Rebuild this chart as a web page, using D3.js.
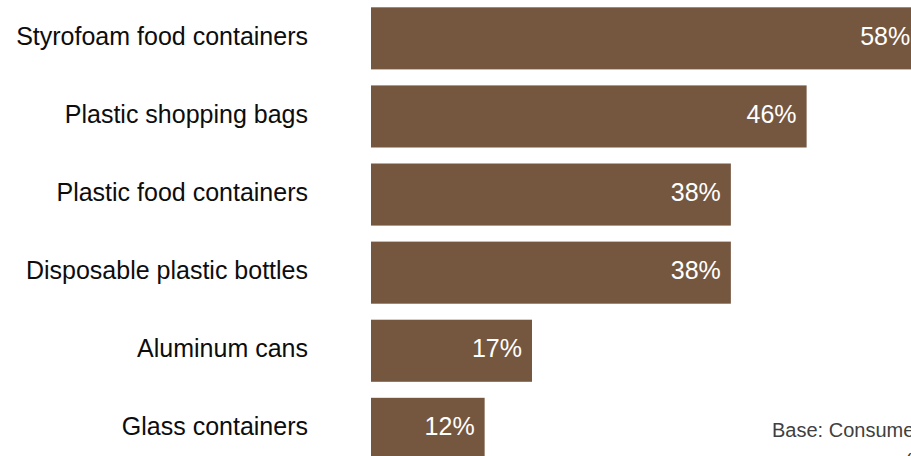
<!DOCTYPE html>
<html>
<head>
<meta charset="utf-8">
<script src="https://cdn.jsdelivr.net/npm/d3@7"></script>
<style>
  html, body { margin: 0; padding: 0; background: #ffffff; }
  svg { display: block; font-family: "Liberation Sans", Arial, sans-serif; }
</style>
</head>
<body>
<div id="chart"></div>
<script>
// Items consumers would like to see banned / reduced (share of respondents, %)
const categories = [
  "Styrofoam food containers",
  "Plastic shopping bags",
  "Plastic food containers",
  "Disposable plastic bottles",
  "Aluminum cans",
  "Glass containers"
];
const values = [58, 46, 38, 38, 17, 12];
const valueLabels = ["58%", "46%", "38%", "38%", "17%", "12%"];
const baseNote = ["Base: Consumers", "(multiple responses allowed)"];

const width = 911, height = 456;

const svg = d3.select("#chart").append("svg")
  .attr("width", width)
  .attr("height", height);

// Horizontal value scale: bars start at the category gutter
const x = d3.scaleLinear().domain([0, 100]).range([371, 371 + 947]);

// Vertical band scale for the categories
const y = d3.scaleBand()
  .domain(categories)
  .range([-0.7, 467.9])
  .paddingInner(0.205)
  .paddingOuter(0.1025);

const rows = categories.map((c, i) => ({ cat: c, value: values[i], label: valueLabels[i] }));

// Bars
svg.append("g")
  .selectAll("rect")
  .data(rows)
  .join("rect")
  .attr("x", x(0))
  .attr("y", d => y(d.cat))
  .attr("width", d => x(d.value) - x(0))
  .attr("height", y.bandwidth())
  .attr("fill", "#755740");

// Value labels inside the bar ends
svg.append("g")
  .selectAll("text")
  .data(rows)
  .join("text")
  .attr("x", d => x(d.value) - 10)
  .attr("y", d => y(d.cat) + y.bandwidth() / 2 + 6.5)
  .attr("text-anchor", "end")
  .attr("fill", "#ffffff")
  .style("font-size", "25px")
  .text(d => d.label);

// Category axis labels (no axis line or ticks)
const yAxis = d3.axisLeft(y).tickSize(0).tickPadding(0);
const gy = svg.append("g")
  .attr("transform", "translate(308,0)")
  .call(yAxis);
gy.select(".domain").remove();
gy.selectAll(".tick text")
  .attr("dy", null)
  .attr("y", 6.5)
  .attr("fill", "#0d0d0d")
  .style("font-size", "25px")
  .style("font-family", "'Liberation Sans', Arial, sans-serif");

// Base note
svg.append("g")
  .selectAll("text")
  .data(baseNote)
  .join("text")
  .attr("x", (d, i) => i === 0 ? 772 : 905)
  .attr("y", (d, i) => 437 + i * 31)
  .attr("fill", "#404040")
  .style("font-size", "20px")
  .text(d => d);
</script>
</body>
</html>
